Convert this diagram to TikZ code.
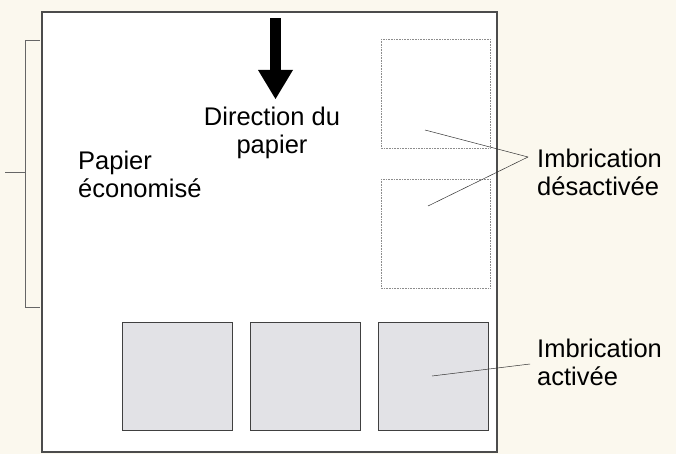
\documentclass[tikz,border=0pt]{standalone}
\usepackage{fontspec}
\setmainfont{Liberation Sans}
\definecolor{bgcream}{HTML}{FBF8EE}
\definecolor{boxgrey}{HTML}{E2E2E6}
\tikzset{
  sheetbox/.style={draw=black!70, fill=white, line width=1.2pt},
  offbox/.style={draw=black!45, densely dotted, line width=0.6pt},
  onbox/.style={draw=black!75, fill=boxgrey, line width=1pt},
  lbl/.style={font=\fontsize{25.5}{28}\selectfont, align=left, anchor=west, inner sep=0pt},
  pointer/.style={draw=black!80, line width=0.5pt}
}
\begin{document}
\begin{tikzpicture}[x=1pt,y=-1pt]
        \useasboundingbox[fill=bgcream] (0,0) rectangle (676,454);
        \draw[sheetbox] (42,12) rectangle (497,452);

        % bracket
        \draw[black!60, line width=0.7pt] (40,40) -- (25,40) -- (25,307) -- (40,307);
        \draw[black!60, line width=0.7pt] (25,172) -- (5,172);

        % arrow
        \fill (270,18) rectangle (281,72);
        \fill (258,70) -- (293,70) -- (275.5,99) -- cycle;

        % dotted squares
        \draw[offbox] (381,39) rectangle (490,148);
        \draw[offbox] (381,179) rectangle (490,288);
        \coordinate (pa) at (425,130);
        \coordinate (pb) at (428,206);

        % grey squares
        \foreach \x in {122,250,378}
          \draw[onbox] (\x,322) rectangle ++(110,108);
        \coordinate (pc) at (432,376);

        \node[lbl, align=center, anchor=center] (dir) at (272,133) {Direction du\\papier};
        \node[lbl] (eco) at (78,174) {Papier\\économisé};
        \node[lbl] (off) at (537,172) {Imbrication\\désactivée};
        \node[lbl] (on) at (537,362) {Imbrication\\activée};

        \coordinate (offt) at (528,157);
        \draw[pointer] (pa) -- (offt);
        \draw[pointer] (pb) -- (offt);
        \draw[pointer] (pc) -- (530,364);
    \end{tikzpicture}
\end{document}
